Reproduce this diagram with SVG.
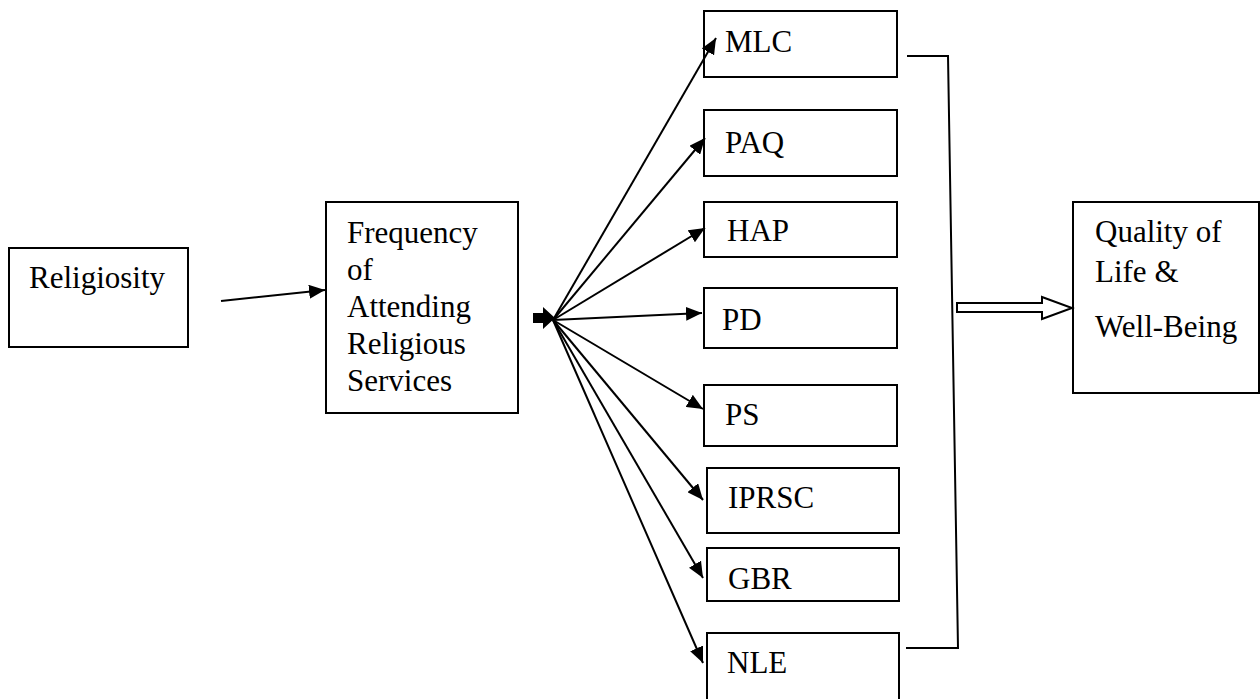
<svg xmlns="http://www.w3.org/2000/svg" width="1260" height="699" viewBox="0 0 1260 699">
<style>
.box{fill:#fff;stroke:#000;stroke-width:2}
.t{font-family:'Liberation Serif','DejaVu Serif','Times New Roman',Times,serif;font-size:31px;fill:#000}
.c{fill:none;stroke:#000;stroke-width:2}
</style>
<defs>
<marker id="ah" viewBox="0 0 16 14" refX="16" refY="7" markerWidth="16" markerHeight="14" orient="auto" markerUnits="userSpaceOnUse"><path d="M0,0 L16,7 L0,14 z" fill="#000"/></marker>
</defs>
<rect width="1260" height="699" fill="#fff"/>
<g id="religiosity"><rect class="box" x="9" y="248" width="179" height="99"/><text class="t" font-family="Liberation Serif, DejaVu Serif, serif" x="29" y="288">Religiosity</text></g>
<g id="frequency"><rect class="box" x="326" y="202" width="192" height="211"/>
<text class="t" x="347" y="243">Frequency</text><text class="t" x="347" y="280">of</text><text class="t" x="347" y="317">Attending</text><text class="t" x="347" y="354">Religious</text><text class="t" x="347" y="391">Services</text></g>
<g id="mlc"><rect class="box" x="704" y="11" width="193" height="66"/><text class="t" x="725" y="52">MLC</text></g>
<g id="paq"><rect class="box" x="704" y="110" width="193" height="66"/><text class="t" x="725" y="153">PAQ</text></g>
<g id="hap"><rect class="box" x="704" y="202" width="193" height="55"/><text class="t" x="727" y="241">HAP</text></g>
<g id="pd"><rect class="box" x="704" y="288" width="193" height="60"/><text class="t" x="722" y="330">PD</text></g>
<g id="ps"><rect class="box" x="704" y="385" width="193" height="61"/><text class="t" x="725" y="425">PS</text></g>
<g id="iprsc"><rect class="box" x="707" y="468" width="192" height="65"/><text class="t" x="728" y="508">IPRSC</text></g>
<g id="gbr"><rect class="box" x="707" y="548" width="192" height="53"/><text class="t" x="728" y="589">GBR</text></g>
<g id="nle"><rect class="box" x="707" y="633" width="192" height="70"/><text class="t" x="727" y="673">NLE</text></g>
<g id="quality"><rect class="box" x="1073" y="202" width="186" height="191"/>
<text class="t" x="1095" y="242">Quality of</text><text class="t" x="1095" y="282">Life &amp;</text><text class="t" x="1095" y="337">Well-Being</text></g>
<g id="connectors">
<line class="c" x1="221" y1="301" x2="325" y2="290" marker-end="url(#ah)"/>
<polygon points="533,313 543,313 543,307 555,318 543,329 543,323 533,323" fill="#000"/>
<line class="c" x1="553" y1="320" x2="716" y2="38" marker-end="url(#ah)"/>
<line class="c" x1="553" y1="320" x2="705" y2="138" marker-end="url(#ah)"/>
<line class="c" x1="553" y1="320" x2="705" y2="228" marker-end="url(#ah)"/>
<line class="c" x1="553" y1="320" x2="702" y2="313" marker-end="url(#ah)"/>
<line class="c" x1="553" y1="320" x2="703" y2="409" marker-end="url(#ah)"/>
<line class="c" x1="553" y1="320" x2="703" y2="500" marker-end="url(#ah)"/>
<line class="c" x1="553" y1="320" x2="703" y2="578" marker-end="url(#ah)"/>
<line class="c" x1="553" y1="320" x2="703" y2="663" marker-end="url(#ah)"/>
<polyline class="c" points="907,56 948,56 958,648 906,648"/>
<polygon points="957,303 1042,303 1042,297 1072,308 1042,319 1042,312 957,312" fill="#fff" stroke="#000" stroke-width="2"/>
</g>
</svg>
